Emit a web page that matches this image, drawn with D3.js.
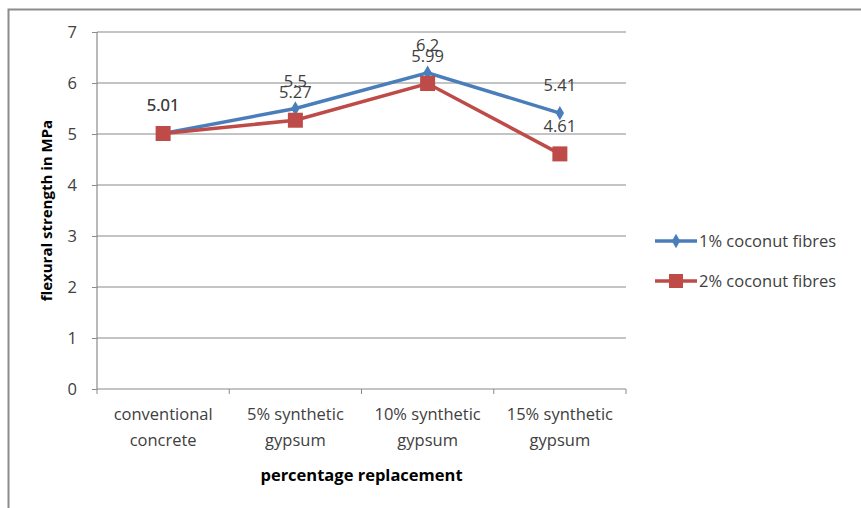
<!DOCTYPE html>
<html>
<head>
<meta charset="utf-8">
<script src="https://cdn.jsdelivr.net/npm/d3@7"></script>
<style>
  body { margin: 0; background: #fff; }
  text { font-family: "Open Sans", "Noto Sans", sans-serif; }
</style>
</head>
<body>
<div id="chart_div"></div>
<script>
const categories = [["conventional", "concrete"], ["5% synthetic", "gypsum"], ["10% synthetic", "gypsum"], ["15% synthetic", "gypsum"]];
const seriesNames = ["1% coconut fibres", "2% coconut fibres"];
const fibre1 = [5.01, 5.5, 6.2, 5.41];
const fibre2 = [5.01, 5.27, 5.99, 4.61];
const yTicks = [0, 1, 2, 3, 4, 5, 6, 7];

const width = 861;
const height = 508;
const margin = { left: 97, right: 235, top: 32, bottom: 119 };
const labelSize = 16.5;

const svg = d3.select("#chart_div")
    .append("svg")
    .attr("width", width)
    .attr("height", height);

// outer frame
svg.append("rect")
    .attr("x", 8.5).attr("y", 9.5)
    .attr("width", width + 10).attr("height", height + 10)
    .attr("fill", "none")
    .attr("stroke", "#8c8c8c")
    .attr("stroke-width", 2);

const x = d3.scaleBand()
    .domain(d3.range(categories.length))
    .range([margin.left, width - margin.right]);

const y = d3.scaleLinear()
    .domain([0, 7])
    .range([height - margin.bottom, margin.top]);

// gridlines
svg.append("g")
    .selectAll("line")
    .data(yTicks.filter(d => d > 0))
    .enter()
    .append("line")
    .attr("x1", margin.left).attr("x2", width - margin.right)
    .attr("y1", d => y(d)).attr("y2", d => y(d))
    .attr("stroke", "#8a8a8a")
    .attr("stroke-width", 1.2);

// y axis
const yAxis = svg.append("g")
    .attr("transform", `translate(${margin.left},0)`)
    .call(d3.axisLeft(y).tickValues(yTicks).tickFormat(d3.format("d")).tickSize(5).tickPadding(15));
yAxis.select(".domain").attr("stroke", "#8a8a8a").attr("stroke-width", 1.2).attr("d", `M0,${y(7)}V${y(0)}`);
yAxis.selectAll(".tick line").attr("stroke", "#8a8a8a");
yAxis.selectAll(".tick text").attr("font-size", labelSize).attr("fill", "#404040")
    .style("font-family", "'Open Sans', sans-serif");

// x axis
const xAxis = svg.append("g")
    .attr("transform", `translate(0,${y(0)})`);
xAxis.append("line")
    .attr("x1", margin.left).attr("x2", width - margin.right)
    .attr("stroke", "#8a8a8a").attr("stroke-width", 1.2);
xAxis.selectAll(".xtick")
    .data(d3.range(categories.length + 1))
    .enter()
    .append("line")
    .attr("x1", d => margin.left + d * x.step())
    .attr("x2", d => margin.left + d * x.step())
    .attr("y1", 0).attr("y2", 5)
    .attr("stroke", "#8a8a8a");
const xLabels = xAxis.selectAll(".xlabel")
    .data(categories)
    .enter()
    .append("text")
    .attr("text-anchor", "middle")
    .attr("font-size", labelSize)
    .attr("fill", "#404040")
    .attr("transform", (d, i) => `translate(${x(i) + x.bandwidth() / 2},0)`);
xLabels.append("tspan").attr("x", 0).attr("y", 31).text(d => d[0]);
xLabels.append("tspan").attr("x", 0).attr("y", 57).text(d => d[1]);

// axis titles
svg.append("text")
    .attr("x", (margin.left + width - margin.right) / 2)
    .attr("y", 481)
    .attr("text-anchor", "middle")
    .attr("font-size", 16.5)
    .attr("font-weight", "bold")
    .attr("fill", "#000")
    .text("percentage replacement");

svg.append("text")
    .attr("transform", `translate(52,${(y(0) + y(7)) / 2}) rotate(-90)`)
    .attr("text-anchor", "middle")
    .attr("font-size", 15)
    .attr("font-weight", "bold")
    .attr("fill", "#000")
    .text("flexural strength in MPa");

// lines
const colors = ["#4a7ebb", "#be4b48"];
const line = d3.line()
    .x((d, i) => x(i) + x.bandwidth() / 2)
    .y(d => y(d));

const seriesData = [fibre1, fibre2];

seriesData.forEach((vals, s) => {
    svg.append("path")
        .datum(vals)
        .attr("d", line)
        .attr("fill", "none")
        .attr("stroke", colors[s])
        .attr("stroke-width", 3.5);
});

// markers
svg.append("g").selectAll("path")
    .data(fibre1)
    .enter()
    .append("path")
    .attr("d", d3.symbol(d3.symbolDiamond, 60))
    .attr("transform", (d, i) => `translate(${x(i) + x.bandwidth() / 2},${y(d)})`)
    .attr("fill", colors[0]);

svg.append("g").selectAll("rect")
    .data(fibre2)
    .enter()
    .append("rect")
    .attr("x", (d, i) => x(i) + x.bandwidth() / 2 - 7.5)
    .attr("y", d => y(d) - 7.5)
    .attr("width", 15).attr("height", 15)
    .attr("fill", colors[1]);

// data labels
seriesData.forEach((vals) => {
    svg.append("g").selectAll("text")
        .data(vals)
        .enter()
        .append("text")
        .attr("x", (d, i) => x(i) + x.bandwidth() / 2)
        .attr("y", d => y(d) - 22)
        .attr("text-anchor", "middle")
        .attr("font-size", labelSize)
        .attr("fill", "#404040")
        .text(d => d);
});

// legend
const legend = svg.append("g").attr("transform", "translate(655,241)");
seriesNames.forEach((name, i) => {
    const row = legend.append("g").attr("transform", `translate(0,${i * 40})`);
    row.append("line")
        .attr("x1", 0).attr("x2", 42)
        .attr("stroke", colors[i]).attr("stroke-width", 3.5);
    if (i === 0) {
        row.append("path")
            .attr("d", d3.symbol(d3.symbolDiamond, 60))
            .attr("transform", "translate(21,0)")
            .attr("fill", colors[i]);
    } else {
        row.append("rect")
            .attr("x", 14).attr("y", -7).attr("width", 14).attr("height", 14)
            .attr("fill", colors[i]);
    }
    row.append("text")
        .attr("x", 44).attr("y", 6)
        .attr("font-size", labelSize)
        .attr("fill", "#404040")
        .text(name);
});
</script>
</body>
</html>
